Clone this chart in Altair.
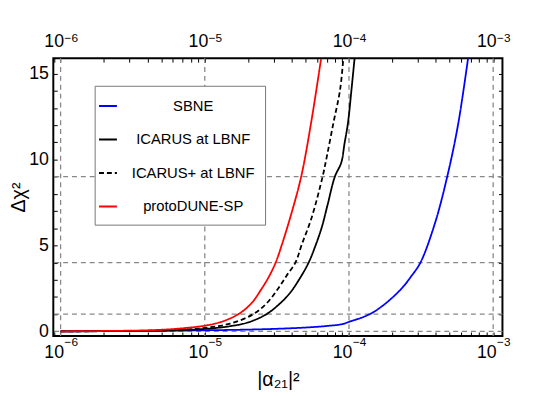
import altair as alt
import pandas as pd

series_names = ["SBNE", "ICARUS at LBNF", "ICARUS+ at LBNF", "protoDUNE-SP"]
series_colors = ["#0000ff", "#000000", "#000000", "#ff0000"]
series_dash = [[1, 0], [1, 0], [5, 3], [1, 0]]

sbne_x = [1e-6, 3e-6, 1e-5, 2e-5, 3e-5, 5e-5, 7e-5, 9e-5, 1e-4, 1.27e-4, 1.5e-4, 1.9e-4, 2.35e-4, 2.7e-4, 3.13e-4, 3.95e-4, 4.8e-4, 5.7e-4, 6.7e-4]
sbne_y = [0.0, 0.02, 0.06, 0.1, 0.14, 0.22, 0.31, 0.42, 0.55, 0.85, 1.15, 1.8, 2.55, 3.2, 4.0, 6.3, 9.0, 12.0, 15.9]

icarus_x = [1e-6, 5e-6, 1e-5, 1.5e-5, 2e-5, 2.68e-5, 3.3e-5, 3.87e-5, 4.5e-5, 5.25e-5, 5.9e-5, 6.5e-5, 7.1e-5, 7.98e-5, 8.85e-5, 9.3e-5, 9.84e-5, 1.04e-4, 1.094e-4]
icarus_y = [0.0, 0.04, 0.14, 0.3, 0.52, 1.0, 1.6, 2.2, 3.0, 4.0, 5.06, 6.1, 7.35, 9.0, 9.83, 10.9, 12.13, 14.04, 15.9]

icarusp_x = [1e-6, 5e-6, 1e-5, 1.5e-5, 2.17e-5, 2.7e-5, 3.22e-5, 3.7e-5, 4.25e-5, 4.71e-5, 5.5e-5, 6.56e-5, 7.03e-5, 7.8e-5, 8.67e-5, 9.14e-5]
icarusp_y = [0.0, 0.05, 0.2, 0.45, 1.0, 1.65, 2.48, 3.25, 4.0, 5.06, 6.6, 9.0, 10.2, 12.13, 14.04, 15.9]

proto_x = [1e-6, 2e-6, 4e-6, 6e-6, 1e-5, 1.3e-5, 1.71e-5, 2.1e-5, 2.48e-5, 2.8e-5, 3.1e-5, 3.43e-5, 4e-5, 4.66e-5, 5.46e-5, 6.4e-5]
proto_y = [0.0, 0.02, 0.06, 0.13, 0.33, 0.55, 1.0, 1.62, 2.48, 3.22, 4.0, 5.06, 6.9, 9.0, 12.13, 15.85]

grid_x = [1e-6, 1e-5, 1e-4, 1e-3]
grid_y = [0, 1, 4, 9]
decade_exponents = ["−6", "−5", "−4", "−3"]

x_ticks = [k * 10.0 ** e for e in range(-7, -2) for k in range(1, 10)]
x_ticks = [v for v in x_ticks if 8.9e-7 <= v <= 1.16e-3]
y_ticks = list(range(0, 16))

rows = []
for name, xs, ys in [
    (series_names[0], sbne_x, sbne_y),
    (series_names[1], icarus_x, icarus_y),
    (series_names[2], icarusp_x, icarusp_y),
    (series_names[3], proto_x, proto_y),
]:
    for i, (a, b) in enumerate(zip(xs, ys)):
        rows.append({"series": name, "x": a, "y": b, "order": i})
df = pd.DataFrame(rows)
gx = pd.DataFrame({"x": grid_x, "exp": decade_exponents})
gy = pd.DataFrame({"y": grid_y})

FONT = "Liberation Sans"
W, H = 456, 282
xscale = alt.Scale(type="log", domain=[8.9e-7, 1.16e-3], nice=False)
yscale = alt.Scale(domain=[-0.27, 15.9], nice=False, zero=False)

x_label_expr = ("abs(datum.value/1e-6-1)<0.01 || abs(datum.value/1e-5-1)<0.01 || "
                "abs(datum.value/1e-4-1)<0.01 || abs(datum.value/1e-3-1)<0.01 ? '10' : ''")

common_axis = dict(domain=False, grid=False, tickColor="black", tickWidth=1, tickSize=4, offset=-4,
                   labelFont=FONT, labelFontSize=18, labelColor="black", titleFont=FONT,
                   titleColor="black", titleFontWeight="normal")

legend = alt.Legend(orient="none", legendX=42, legendY=28, title=None, fillColor="white",
                    strokeColor="#777777", padding=10, rowPadding=15, labelFont=FONT,
                    labelFontSize=15, labelColor="black", symbolType="stroke",
                    symbolStrokeWidth=2, symbolSize=330, symbolOffset=-7,
                    labelAlign="center", labelOffset=76)

lines = alt.Chart(df).mark_line(strokeWidth=1.8, clip=True, interpolate="catmull-rom").encode(
    x=alt.X("x:Q", scale=xscale,
            axis=alt.Axis(orient="bottom", values=x_ticks, labelExpr=x_label_expr, labelOffset=-7,
                          title="|α₂₁|²", titleFontSize=20, labelPadding=8, titlePadding=8,
                          **common_axis)),
    y=alt.Y("y:Q", scale=yscale,
            axis=alt.Axis(orient="left", values=y_ticks,
                          labelExpr="datum.value % 5 == 0 ? datum.label : ''",
                          title="Δχ²", titleFontSize=20, labelPadding=5, titlePadding=0,
                          **common_axis)),
    color=alt.Color("series:N", scale=alt.Scale(domain=series_names, range=series_colors), legend=legend),
    strokeDash=alt.StrokeDash("series:N", scale=alt.Scale(domain=series_names, range=series_dash), legend=legend),
    order="order:Q",
)

vgrid = alt.Chart(gx).mark_rule(color="#888888", strokeDash=[5, 4], strokeWidth=1.3).encode(
    x=alt.X("x:Q", scale=xscale,
            axis=alt.Axis(orient="top", values=x_ticks, labelExpr=x_label_expr, labelOffset=-7,
                          title=None, labelPadding=8, **common_axis)),
)

exp_bottom = alt.Chart(gx).mark_text(font=FONT, fontSize=12, align="left", baseline="middle",
                                     dx=4, color="black").encode(
    x=alt.X("x:Q", scale=xscale, axis=None), y=alt.value(H + 6), text="exp:N")
exp_top = alt.Chart(gx).mark_text(font=FONT, fontSize=12, align="left", baseline="middle",
                                  dx=4, color="black").encode(
    x=alt.X("x:Q", scale=xscale, axis=None), y=alt.value(-20), text="exp:N")

hgrid = alt.Chart(gy).mark_rule(color="#888888", strokeDash=[5, 4], strokeWidth=1.3).encode(
    y=alt.Y("y:Q", scale=yscale,
            axis=alt.Axis(orient="right", values=y_ticks, labels=False, title=None, **common_axis)),
)

chart = alt.layer(vgrid, hgrid, lines, exp_bottom, exp_top).resolve_axis(
    x="independent", y="independent").properties(
    width=W, height=H,
    autosize=alt.AutoSizeParams(type="none"),
    padding={"left": 46, "top": 48, "right": 30, "bottom": 58},
).configure_view(stroke="black", strokeWidth=2)

chart.save("out.html", embed_options={"renderer": "svg", "actions": False})
